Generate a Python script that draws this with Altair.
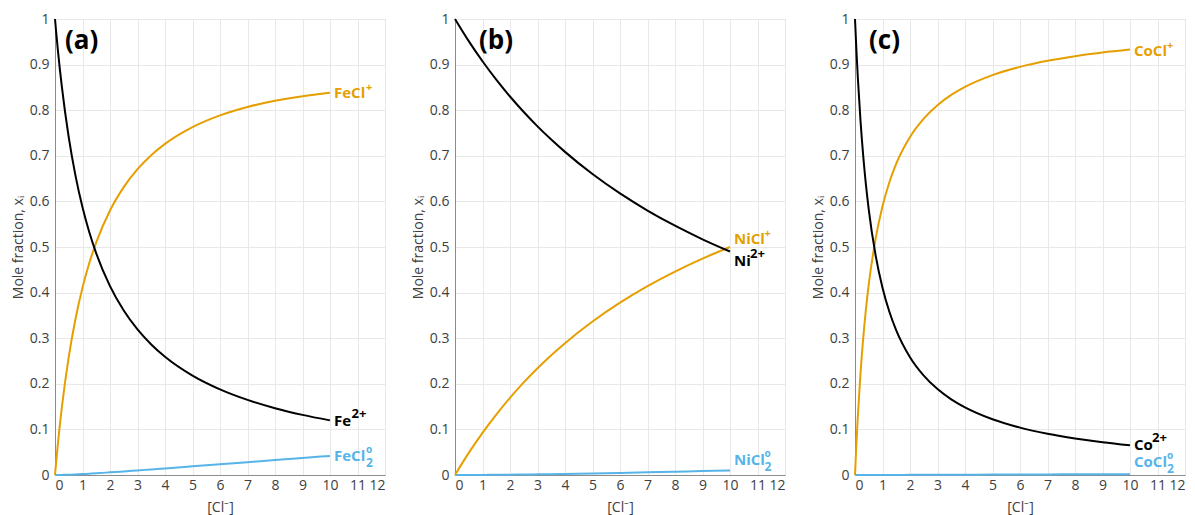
import altair as alt
import pandas as pd

FONT = "Open Sans"
ORANGE = "#E69F00"
BLUE = "#56B4E9"
BLACK = "#000000"

# ---- Panel (a): Fe ----
x_a = [0, 0.05, 0.1, 0.25, 0.5, 0.75, 1, 1.25, 1.5, 2, 2.5, 3, 3.5, 4, 5, 6, 7, 8, 9, 10]
fe2 = [1.0, 0.9662, 0.9346, 0.8509, 0.7403, 0.6549, 0.5870, 0.5318, 0.4859, 0.4143,
       0.3608, 0.3193, 0.2863, 0.2593, 0.2180, 0.1878, 0.1647, 0.1465, 0.1319, 0.1198]
fecl = [0.0, 0.0338, 0.0654, 0.1489, 0.2591, 0.3438, 0.4109, 0.4653, 0.5102, 0.5800,
        0.6313, 0.6706, 0.7014, 0.7261, 0.7629, 0.7886, 0.8070, 0.8206, 0.8308, 0.8383]
fecl2 = [0.0, 0.0000, 0.0000, 0.0002, 0.0006, 0.0013, 0.0021, 0.0029, 0.0038, 0.0058,
         0.0079, 0.0101, 0.0123, 0.0145, 0.0191, 0.0237, 0.0282, 0.0328, 0.0374, 0.0419]

# ---- Panel (b): Ni ----
x_b = [0, 0.5, 1, 1.5, 2, 2.5, 3, 3.5, 4, 5, 6, 7, 8, 9, 10]
ni2 = [1.0, 0.9514, 0.9073, 0.8670, 0.8300, 0.7960, 0.7646, 0.7356, 0.7086, 0.6600,
       0.6175, 0.5800, 0.5467, 0.5169, 0.4901]
nicl = [0.0, 0.0485, 0.0925, 0.1326, 0.1693, 0.2030, 0.2340, 0.2626, 0.2891, 0.3366,
        0.3779, 0.4142, 0.4461, 0.4745, 0.4999]
nicl2 = [0.0, 0.0001, 0.0002, 0.0004, 0.0007, 0.0010, 0.0014, 0.0018, 0.0023, 0.0034,
         0.0045, 0.0058, 0.0071, 0.0085, 0.0100]

# ---- Panel (c): Co ----
x_c = [0, 0.05, 0.1, 0.2, 0.3, 0.4, 0.5, 0.75, 1, 1.25, 1.5, 2, 2.5, 3, 3.5, 4, 5, 6, 7, 8, 9, 10]
co2 = [1.0, 0.9331, 0.8745, 0.7770, 0.6991, 0.6353, 0.5822, 0.4816, 0.4107, 0.3579, 0.3172,
       0.2583, 0.2179, 0.1884, 0.1659, 0.1483, 0.1222, 0.1039, 0.0904, 0.0800, 0.0717, 0.0650]
cocl = [0.0, 0.0670, 0.1255, 0.2230, 0.3009, 0.3647, 0.4178, 0.5183, 0.5893, 0.6420, 0.6828,
        0.7414, 0.7817, 0.8111, 0.8335, 0.8511, 0.8769, 0.8950, 0.9083, 0.9185, 0.9266, 0.9331]
cocl2 = [0.0, 0.0, 0.0, 0.0, 0.0, 0.0, 0.0, 0.0001, 0.0001, 0.0002, 0.0002,
         0.0003, 0.0004, 0.0005, 0.0006, 0.0007, 0.0009, 0.0011, 0.0013, 0.0015, 0.0017, 0.0019]

x_ticks = list(range(0, 13))
y_ticks = [0, 0.1, 0.2, 0.3, 0.4, 0.5, 0.6, 0.7, 0.8, 0.9, 1]

W, H = 330, 456
LBL = 15

xenc = alt.X("x:Q", scale=alt.Scale(domain=[0, 12], nice=False, zero=False),
             axis=alt.Axis(values=x_ticks, title="[Cl⁻]", labelPadding=3, titlePadding=8))
yenc = alt.Y("y:Q", scale=alt.Scale(domain=[0, 1], nice=False, zero=False),
             axis=alt.Axis(values=y_ticks, format=".1~f", title="Mole fraction, xᵢ",
                           labelPadding=6, titlePadding=4))


def line(xs, ys, color):
    df = pd.DataFrame({"x": xs, "y": ys})
    return alt.Chart(df).mark_line(color=color, strokeWidth=2, interpolate="monotone").encode(x=xenc, y=yenc)


def label(xs, ys, base, color, dy, base_w, sup=None, sub=None, sup_dy=-6, sup_size=12):
    df = pd.DataFrame({"x": [xs[-1]], "y": [ys[-1]]})
    out = [alt.Chart(df).mark_text(text=base, align="left", baseline="middle", dx=4, dy=dy,
                                   font=FONT, fontSize=LBL, fontWeight="bold", color=color)
           .encode(x=xenc, y=yenc)]
    if sup:
        out.append(alt.Chart(df).mark_text(text=sup, align="left", baseline="middle", dx=4 + base_w,
                                           dy=dy + sup_dy, font=FONT, fontSize=sup_size,
                                           fontWeight="bold", color=color).encode(x=xenc, y=yenc))
    if sub:
        out.append(alt.Chart(df).mark_text(text=sub, align="left", baseline="middle", dx=4 + base_w,
                                           dy=dy + 7, font=FONT, fontSize=12,
                                           fontWeight="bold", color=color).encode(x=xenc, y=yenc))
    return out


def letter(txt, xoff):
    return alt.Chart(pd.DataFrame({"t": [txt]})).mark_text(
        align="left", baseline="middle", font=FONT, fontSize=26, fontWeight="bold", color=BLACK
    ).encode(x=alt.value(xoff), y=alt.value(22), text="t:N")


panel_a = alt.layer(
    line(x_a, fecl2, BLUE), line(x_a, fecl, ORANGE), line(x_a, fe2, BLACK),
    *label(x_a, fecl, "FeCl", ORANGE, 0, 32, sup="+", sup_dy=-5, sup_size=11),
    *label(x_a, fe2, "Fe", BLACK, 1, 17.5, sup="2+", sup_dy=-7, sup_size=13),
    *label(x_a, fecl2, "FeCl", BLUE, 0, 32, sup="o", sub="2", sup_dy=-6, sup_size=10),
    letter("(a)", 10),
).properties(width=W, height=H)

panel_b = alt.layer(
    line(x_b, nicl2, BLUE), line(x_b, nicl, ORANGE), line(x_b, ni2, BLACK),
    *label(x_b, nicl, "NiCl", ORANGE, -8, 30.5, sup="+", sup_dy=-5, sup_size=11),
    *label(x_b, ni2, "Ni", BLACK, 9, 16, sup="2+", sup_dy=-7, sup_size=13),
    *label(x_b, nicl2, "NiCl", BLUE, -10, 30.5, sup="o", sub="2", sup_dy=-6, sup_size=10),
    letter("(b)", 24),
).properties(width=W, height=H)

panel_c = alt.layer(
    line(x_c, cocl2, BLUE), line(x_c, cocl, ORANGE), line(x_c, co2, BLACK),
    *label(x_c, cocl, "CoCl", ORANGE, 1, 33, sup="+", sup_dy=-5, sup_size=11),
    *label(x_c, co2, "Co", BLACK, 0, 18, sup="2+", sup_dy=-7, sup_size=13),
    *label(x_c, cocl2, "CoCl", BLUE, -12, 33, sup="o", sub="2", sup_dy=-6, sup_size=10),
    letter("(c)", 14),
).properties(width=W, height=H)

chart = alt.hconcat(panel_a, panel_b, panel_c, spacing=24).properties(
    padding={"left": 10, "top": 11, "right": 0, "bottom": 0}
).configure_view(
    stroke="#8c8c8c", strokeWidth=1
).configure_axis(
    grid=True, gridColor="#e8e8e8", gridWidth=1,
    domainColor="#8c8c8c", ticks=False,
    labelFont=FONT, labelFontSize=14, labelColor="#404040",
    titleFont=FONT, titleFontSize=14, titleFontWeight="normal", titleColor="#404040",
)

chart.save("out.html", embed_options={"renderer": "svg", "actions": False})
